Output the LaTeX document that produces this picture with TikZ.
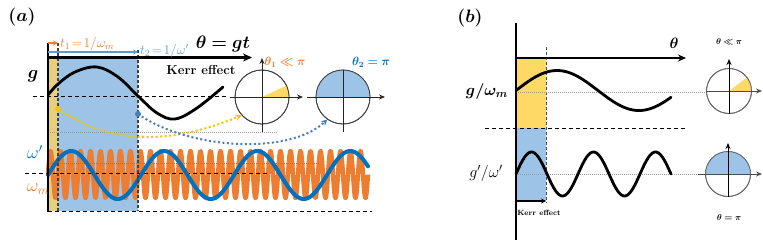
\RequirePackage{fix-cm}
\documentclass[tikz,border=0pt]{standalone}
\usepackage{amsmath,bm}
\usetikzlibrary{arrows.meta}
\definecolor{morange}{HTML}{ED7D31}
\definecolor{mblue}{HTML}{0070C0}
\definecolor{lblue}{HTML}{9DC3E6}
\definecolor{arrblue}{HTML}{5B9BD5}
\definecolor{ayellow}{HTML}{E8CF7E}
\definecolor{byellow}{HTML}{FFD966}
\definecolor{dyellow}{HTML}{FFC000}
\definecolor{dotblue}{HTML}{4A7EBB}
\tikzset{
  fs/.style={font=\fontsize{#1}{#1}\selectfont},
  axisline/.style={draw=black, line width=1.6pt},
  bigarrow/.style={draw=black, line width=2.2pt, -{Stealth[length=9pt,width=8pt]}},
  blackdash/.style={draw=black, line width=1pt, dash pattern=on 4pt off 3pt},
  greydash/.style={draw=black!75, line width=1.1pt, dash pattern=on 3pt off 2pt},
  greydot/.style={draw=black!40, line width=1pt, dash pattern=on 1pt off 1pt},
  polaraxis/.style={draw=black!85, line width=0.9pt, -{Stealth[length=6pt,width=5pt]}},
  polarcircle/.style={draw=black!75, line width=0.8pt, circle, inner sep=0pt},
  dotcurve/.style={line width=2pt, dash pattern=on 2pt off 2.5pt, -{Stealth[length=6pt,width=6pt]}},
  wave/.style={line width=2.8pt, line cap=round, line join=round},
}
\begin{document}
\begin{tikzpicture}[x=1pt,y=-1pt]
\useasboundingbox (0,0) rectangle (763,247);
% ================= panel (a) =================
\fill[ayellow] (48,57) rectangle (58,211);
\fill[lblue] (58,57) rectangle (138,211);
% horizontal guide lines
\draw[blackdash] (33,96) -- (228,96);
\draw[greydot] (48,132) -- (278,132);
% orange fast wave
\draw[morange, line width=4.4pt, line join=round] plot[domain=48:368, samples=900] (\x,{174.5-23.5*sin(36*(\x-48))});
\draw[draw=black!50, line width=0.8pt, dash pattern=on 1pt off 1pt] (48,163) -- (320,163);
\draw[blackdash] (25,173) -- (268,173);
% blue slow wave
\draw[mblue, wave, line width=4pt] plot[domain=48:368, samples=200] (\x,{175-24*sin(360/93*(\x-48))});
\draw[blackdash] (48,211) -- (372,211);
% dashed verticals
\draw[greydash] (58,43) -- (58,211);
\draw[greydash] (138,50) -- (138,211);
% axes
\draw[axisline] (48,43) -- (48,212);
\draw[bigarrow] (48,57.5) -- (252,57.5);
% time arrows
\draw[morange, line width=1.3pt, -{Stealth[length=5pt,width=5pt]}] (48,43) -- (58,43);
\draw[arrblue, line width=1.3pt, -{Stealth[length=5pt,width=5pt]}] (48,52) -- (138,52);
\node[anchor=west, text=morange, fs=13.5, inner sep=0] (t1) at (60,44) {$t_1\!=\!1/\omega_m$};
\node[anchor=west, text=arrblue, fs=13.5, inner sep=0] (t2) at (140,51) {$t_2\!=\!1/\omega'$};
% g wave
\draw[wave] plot[smooth, tension=0.6] coordinates {(48,95) (58,84) (75,72) (97,67) (118,77) (138,96) (157,113) (175,119) (197,108) (223,87)};
% labels
\node[fs=18] (la) at (22,17) {\bfseries($\bm{a}$\bfseries)};
\node[fs=18] (lth) at (223,44) {$\bm{\theta = gt}$};
\node[fs=13] (kerr) at (201,70) {\bfseries Kerr effect};
\node[fs=18] (lg) at (33,76) {$\bm{g}$};
\node[fs=18, text=mblue] (lwp) at (35,152) {$\omega'$};
\node[fs=18, text=morange] (lwm) at (38,189) {$\omega_m$};
% polar circles (a)
\node[polarcircle, minimum size=54pt] (c1) at (262,97) {};
\node[polarcircle, minimum size=54pt] (c2) at (343,97) {};
\fill[byellow] (c1.center) -- plot[domain=0:25, samples=20] ({262+27*cos(\x)},{97-27*sin(\x)}) -- cycle;
\fill[lblue] plot[domain=0:180, samples=60] ({343+27*cos(\x)},{97-27*sin(\x)}) -- cycle;
\node[polarcircle, minimum size=54pt] at (c1) {};
\node[polarcircle, minimum size=54pt] at (c2) {};
\draw[polaraxis] (230,97) -- (303,97);
\draw[polaraxis] (262,132) -- (262,58);
\draw[polaraxis] (307,97) -- (385,97);
\draw[draw=black!85, line width=0.9pt] (343,70) -- (343,132);
\node[fs=12, text=morange] (th1) at (285,62) {$\bm{\theta_1 \ll \pi}$};
\node[fs=12, text=mblue] (th2) at (371,62) {$\bm{\theta_2 = \pi}$};
% dotted transfer curves
\coordinate (py) at (58,109);
\coordinate (pb) at (138,114);
\fill[dyellow] (py) circle (3pt);
\fill[dotblue] (pb) circle (3pt);
\draw[dotcurve, dyellow] (py) .. controls (110,145) and (170,145) .. (c1.222);
\draw[dotcurve, dotblue] (pb) .. controls (190,150) and (290,155) .. (c2.235);
% ================= panel (b) =================
\fill[byellow] (516,58) rectangle (546,128);
\fill[lblue] (516,128) rectangle (546,201);
\draw[draw=black!70, line width=0.6pt, dash pattern=on 3pt off 2pt] (546,47) -- (546,203);
\draw[blackdash, line width=0.8pt] (485,128) -- (687,128);
\draw[greydot, line width=0.8pt] (516,92) -- (707,92);
\draw[greydot, line width=0.8pt] (516,174) -- (698,174);
\draw[axisline, line width=1.4pt] (516,23) -- (516,240);
\draw[draw=black, line width=1.8pt, -{Stealth[length=8pt,width=7pt]}] (516,58) -- (686,58);
\draw[wave] plot[domain=516:671, samples=120] (\x,{90.5-20*sin(360/164*(\x-516))});
\draw[wave] plot[domain=516:671, samples=160] (\x,{174-22*sin(360/62*(\x-516))});
\draw[draw=black, line width=1.3pt, -{Stealth[length=5pt,width=5pt]}] (516,201) -- (546,201);
\node[fs=18] (lb) at (470,18) {\bfseries($\bm{b}$\bfseries)};
\node[fs=15] (lthb) at (674,43) {$\bm{\theta}$};
\node[fs=16] (lgw) at (487,91) {$\bm{g/\omega_m}$};
\node[fs=16] (lgpw) at (486,173) {$g'/\omega'$};
\node[fs=7.5] (kerrb) at (539,213) {\bfseries Kerr effect};
% polar circles (b)
\node[polarcircle, minimum size=45pt, draw=black!60] (d1) at (729,91) {};
\node[polarcircle, minimum size=45pt, draw=black!60] (d2) at (728,174) {};
\fill[byellow] (d1.center) -- plot[domain=0:37, samples=20] ({729+22.5*cos(\x)},{91-22.5*sin(\x)}) -- cycle;
\fill[lblue] plot[domain=0:180, samples=60] ({728+22.5*cos(\x)},{174-22.5*sin(\x)}) -- cycle;
\node[polarcircle, minimum size=45pt, draw=black!60] at (d1) {};
\node[polarcircle, minimum size=45pt, draw=black!60] at (d2) {};
\draw[polaraxis, draw=black!70] (706,91) -- (762,91);
\draw[polaraxis, draw=black] (729,114) -- (729,59);
\draw[polaraxis, draw=black!70] (698,174) -- (762,174);
\draw[polaraxis, draw=black] (728,197) -- (728,143);
\node[fs=8.5] (thb1) at (729,42) {$\bm{\theta \ll \pi}$};
\node[fs=8.5] (thb2) at (729,218) {$\bm{\theta = \pi}$};
\end{tikzpicture}
\end{document}
